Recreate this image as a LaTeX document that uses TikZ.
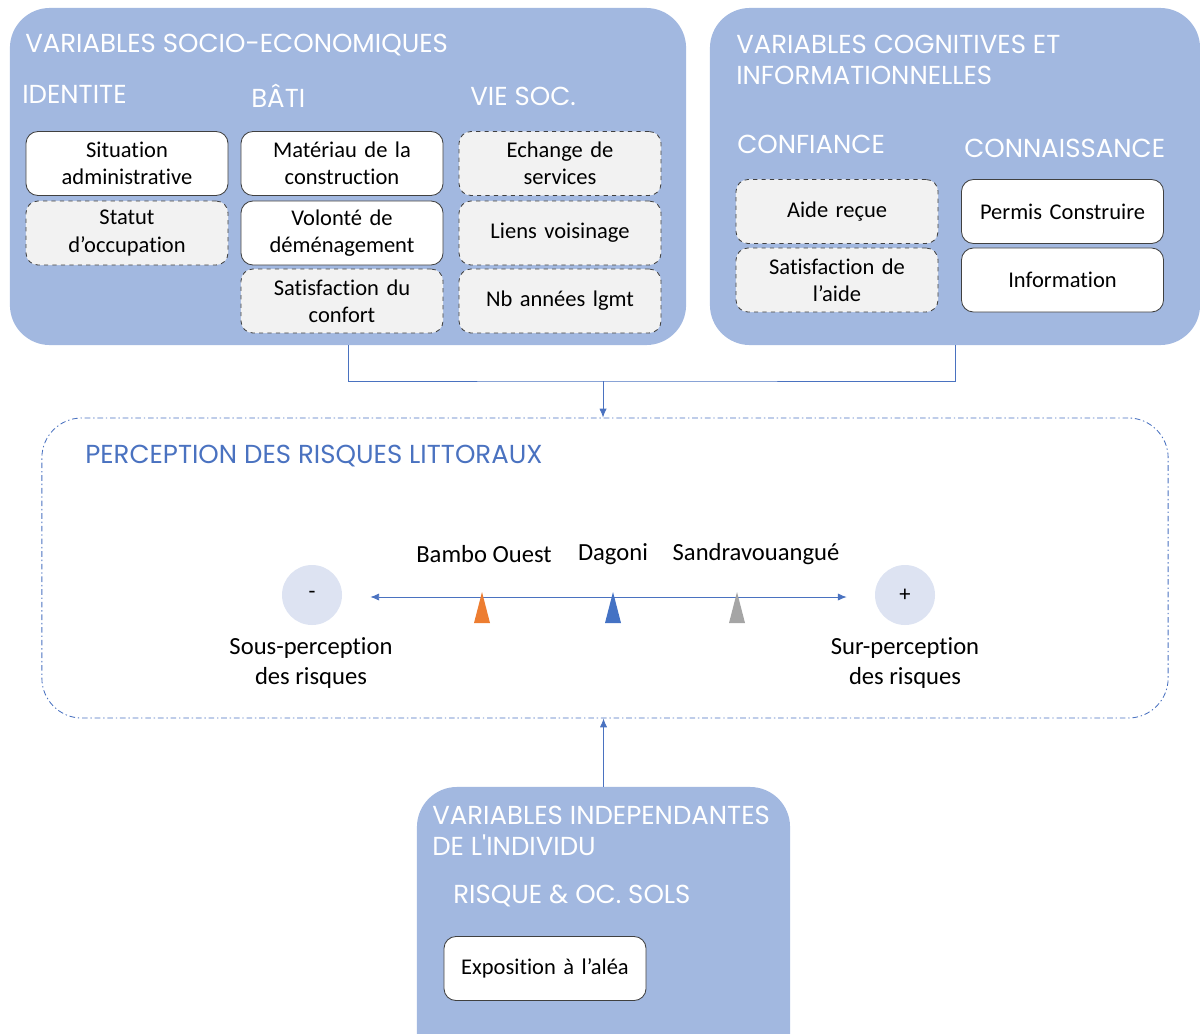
\documentclass[tikz,border=0pt]{standalone}
\usepackage{fontspec}
\setmainfont{Carlito}[Ligatures=NoCommon]
\newfontfamily\headfont{Poppins}
\usetikzlibrary{positioning,arrows.meta,calc}
\definecolor{panelblue}{RGB}{162,184,224}
\definecolor{linkblue}{RGB}{74,114,192}
\definecolor{boxgray}{RGB}{242,242,242}
\definecolor{circfill}{RGB}{221,227,242}
\definecolor{triorange}{RGB}{237,125,49}
\definecolor{triblue}{RGB}{68,114,196}
\definecolor{trigray}{RGB}{165,165,165}

\begin{document}
\begin{tikzpicture}[x=0.025cm,y=-0.025cm,
  panel/.style={fill=panelblue,rounded corners=1cm,inner sep=0},
  head/.style={anchor=west,inner sep=0,text=white,font=\headfont\fontsize{18.5}{21.5}\selectfont,align=left},
  solidbox/.style={draw=black!75,fill=white,rounded corners=0.3cm,minimum width=5.05cm,minimum height=1.6cm,
    text width=4.8cm,align=center,font=\fontsize{16}{19.5}\selectfont,line width=0.6pt},
  dashbox/.style={solidbox,fill=boxgray,dashed},
  link/.style={draw=linkblue,line width=0.6pt},
  lab/.style={font=\fontsize{17.5}{21}\selectfont,align=center}]
\clip (0,0) rectangle (1200,1033);

% panels
\node[panel,minimum width=16.9cm,minimum height=8.425cm] (socio) at (348,176.5) {};
\node[panel,minimum width=12.25cm,minimum height=8.425cm] (cogn) at (955,176.5) {};
\node[panel,minimum width=9.325cm,minimum height=7.15cm] (indiv) at (603.5,930) {};
\node[draw=linkblue,line width=0.6pt,dash pattern=on 4pt off 2pt on 1pt off 2pt,rounded corners=1cm,
  minimum width=28.15cm,minimum height=7.5cm] (perc) at (605,568) {};

% socio-economiques
\node[head] (t1) at (25,45) {VARIABLES SOCIO-ECONOMIQUES};
\node[head] (t11) at (22,94) {IDENTITE};
\node[head] (t12) at (251,96) {BÂTI};
\node[head] (t13) at (470,96) {VIE SOC.};
\node[solidbox] (sitadm) at (127,163.5) {Situation\\administrative};
\node[dashbox] (statut) at (127,233) {Statut\\d’occupation};
\node[solidbox] (materiau) at (342,163.5) {Matériau de la\\construction};
\node[solidbox] (volonte) at (342,233) {Volonté de\\déménagement};
\node[dashbox] (confort) at (342,301) {Satisfaction du\\confort};
\node[dashbox] (echange) at (560,163.5) {Echange de\\services};
\node[dashbox] (liens) at (560,233) {Liens voisinage};
\node[dashbox] (annees) at (560,301) {Nb années lgmt};

% cognitives
\node[head] (t2) at (736,60) {VARIABLES COGNITIVES ET\\INFORMATIONNELLES};
\node[head] (t21) at (737,144) {CONFIANCE};
\node[head] (t22) at (964,148) {CONNAISSANCE};
\node[dashbox] (aide) at (837,211.5) {Aide reçue};
\node[dashbox] (satisaide) at (837,280) {Satisfaction de\\l’aide};
\node[solidbox] (permis) at (1062.5,211.5) {Permis Construire};
\node[solidbox] (info) at (1062.5,280) {Information};

% connectors
\coordinate (join) at (603,381);
\draw[link] (socio.south) |- (join) -| (cogn.south);
\draw[link,-{Latex[length=2.2mm,width=1.8mm]}] (join) -- (join |- perc.north);
\draw[link,-{Latex[length=2.2mm,width=1.8mm]}] (indiv.north) -- (indiv.north |- perc.south);

% perception
\node[head,text=linkblue] (t3) at (85,456) {PERCEPTION DES RISQUES LITTORAUX};
\node[circle,fill=circfill,minimum size=1.5cm,inner sep=0,font=\fontsize{16}{19}\selectfont] (moins) at (312,595) {-};
\node[circle,fill=circfill,minimum size=1.5cm,inner sep=0,font=\fontsize{16}{19}\selectfont] (plus) at (905,595) {+};
\draw[link,{Latex[length=2.2mm,width=1.8mm]}-{Latex[length=2.2mm,width=1.8mm]}]
  ([xshift=0.7cm,yshift=-0.05cm]moins.east) -- ([xshift=-0.7cm,yshift=-0.05cm]plus.west);
\fill[triorange] (474,623) -- (482,592) -- (490,623) -- cycle;
\fill[triblue] (605,623) -- (613,592) -- (621,623) -- cycle;
\fill[trigray] (729,623) -- (737,592) -- (745,623) -- cycle;
\node[lab] (bambo) at (484,554) {Bambo Ouest};
\node[lab] (dagoni) at (613,554) {Dagoni};
\node[lab] (sandra) at (756,554) {Sandravouangué};
\node[lab] (sous) at (311,663) {Sous-perception\\des risques};
\node[lab] (sur) at (905,663) {Sur-perception\\des risques};

% independantes
\node[head] (t4) at (432,831) {VARIABLES INDEPENDANTES\\DE L'INDIVIDU};
\node[head] (t41) at (453,896) {RISQUE \& OC. SOLS};
\node[solidbox] (expo) at (545,968.5) {Exposition à l’aléa};
\end{tikzpicture}
\end{document}
